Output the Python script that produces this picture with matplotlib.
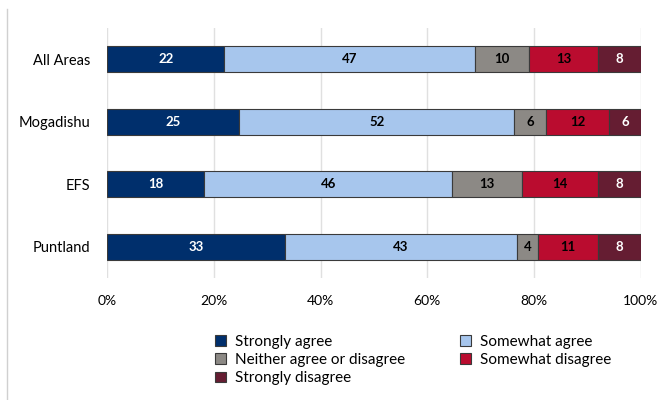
import numpy as np
import matplotlib.pyplot as plt
from matplotlib.lines import Line2D

plt.rcParams['font.family'] = ['Lato', 'DejaVu Sans']

# data
areas = ['All Areas', 'Mogadishu', 'EFS', 'Puntland']
strongly_agree = [22, 25, 18, 33]
somewhat_agree = [47, 52, 46, 43]
neither = [10, 6, 13, 4]
somewhat_disagree = [13, 12, 14, 11]
strongly_disagree = [8, 6, 8, 8]

series_names = ['Strongly agree', 'Somewhat agree', 'Neither agree or disagree',
                'Somewhat disagree', 'Strongly disagree']
colors = ['#002F6C', '#A7C6ED', '#8C8985', '#BA0C2F', '#651D32']
text_colors = ['white', 'black', 'black', 'black', 'white']

vals = np.array([strongly_agree, somewhat_agree, neither,
                 somewhat_disagree, strongly_disagree], dtype=float)
# shares of each row (rounded labels don't always add to 100)
shares = vals / vals.sum(axis=0)

fig = plt.figure(figsize=(6.69, 4.0), dpi=100)
ax = fig.add_axes([0.160, 0.305, 0.798, 0.625])

y = np.arange(len(areas))
left = np.zeros(len(areas))
bars = []
for i in range(len(series_names)):
    b = ax.barh(y, shares[i], left=left, height=0.42, color=colors[i],
                edgecolor='#3a3a3a', linewidth=0.8, label=series_names[i], zorder=3)
    bars.append(b)
    for j in range(len(areas)):
        ax.text(left[j] + shares[i][j] / 2, y[j], '%d' % vals[i][j],
                ha='center', va='center', fontsize=9.5, fontweight='bold',
                color=text_colors[i], zorder=4)
    left += shares[i]

ax.set_xlim(0, 1)
ax.set_ylim(3.5, -0.5)
ax.set_yticks(y)
ax.set_yticklabels(areas, fontsize=10.5)
ax.set_xticks(np.linspace(0, 1, 6))
ax.set_xticklabels(['0%', '20%', '40%', '60%', '80%', '100%'], fontsize=10)
ax.tick_params(length=0)
ax.tick_params(axis='x', pad=12)
ax.tick_params(axis='y', pad=12)
ax.grid(axis='x', color='#e0e0e0', linewidth=1, zorder=0)
for s in ax.spines.values():
    s.set_visible(False)

# legend filled row by row: matplotlib fills by column, so reorder
order = [0, 2, 4, 1, 3]
fig.legend([bars[k] for k in order], [series_names[k] for k in order],
           loc='upper left', bbox_to_anchor=(0.322, 0.163), ncol=2, frameon=False,
           fontsize=11, handlelength=0.7, handleheight=0.7, handletextpad=0.6,
           columnspacing=3.6, labelspacing=0.28, borderaxespad=0, borderpad=0)

# chart frame edge on the left
fig.add_artist(Line2D([0.011, 0.011], [0, 0.978], color='#d0d0d0', linewidth=1))

fig.savefig('out.png', dpi=100)
